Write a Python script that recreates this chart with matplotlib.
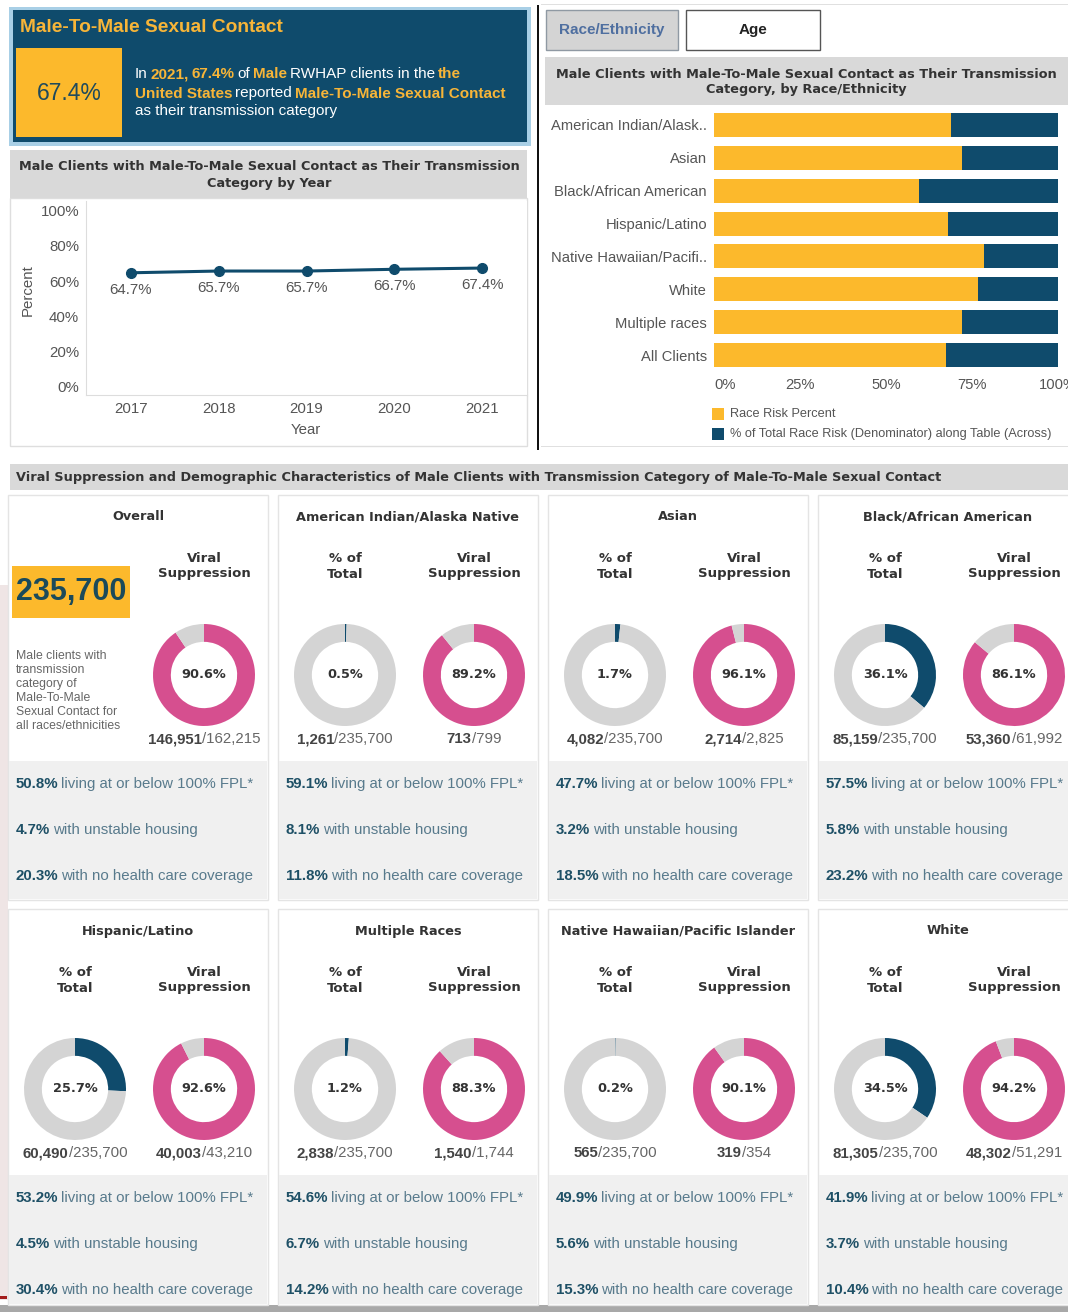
import matplotlib
matplotlib.use('Agg')
import matplotlib.pyplot as plt
from matplotlib.patches import Rectangle

plt.rcParams['font.family'] = ['Liberation Sans', 'DejaVu Sans']

# ---- data ----
years = [2017, 2018, 2019, 2020, 2021]
msm_pct = [64.7, 65.7, 65.7, 66.7, 67.4]

races = ['American Indian/Alask..', 'Asian', 'Black/African American', 'Hispanic/Latino',
         'Native Hawaiian/Pacifi..', 'White', 'Multiple races', 'All Clients']
race_risk = [68.9, 72.1, 59.6, 68.1, 78.5, 76.8, 72.2, 67.4]
race_denom = [100, 100, 100, 100, 100, 100, 100, 100]

groups = ['Overall', 'American Indian/Alaska Native', 'Asian', 'Black/African American',
          'Hispanic/Latino', 'Multiple Races', 'Native Hawaiian/Pacific Islander', 'White']
pct_total = [None, 0.5, 1.7, 36.1, 25.7, 1.2, 0.2, 34.5]
group_n = [235700, 1261, 4082, 85159, 60490, 2838, 565, 81305]
vs_pct = [90.6, 89.2, 96.1, 86.1, 92.6, 88.3, 90.1, 94.2]
vs_num = [146951, 713, 2714, 53360, 40003, 1540, 319, 48302]
vs_den = [162215, 799, 2825, 61992, 43210, 1744, 354, 51291]
fpl = [50.8, 59.1, 47.7, 57.5, 53.2, 54.6, 49.9, 41.9]
unstable = [4.7, 8.1, 3.2, 5.8, 4.5, 6.7, 5.6, 3.7]
no_cover = [20.3, 11.8, 18.5, 23.2, 30.4, 14.2, 15.3, 10.4]
total_n = 235700

# ---- colours ----
NAVY = '#0f4b6c'
GOLD = '#fcb92c'
ORANGE = '#f7b538'
PINK = '#d64f8f'
RING = '#d4d4d4'
TITLE_BG = '#d9d9d9'
DARK = '#333333'
TEAL_B = '#1e5066'
TEAL_N = '#587a8c'
BOLDFAM = 'DejaVu Sans'
TSIZE = 9.3

W, H = 1068, 1312
fig = plt.figure(figsize=(W / 100, H / 100), dpi=100)
R = fig.canvas.get_renderer()


def fx(x):
    return x / W


def fy(y):
    return 1 - y / H


def box(x0, y0, x1, y1, fc, ec='none', lw=0):
    fig.patches.append(Rectangle((fx(x0), fy(y1)), (x1 - x0) / W, (y1 - y0) / H,
                                 transform=fig.transFigure, fc=fc, ec=ec, lw=lw, zorder=-5))


def txt(x, y, s, **kw):
    kw.setdefault('va', 'center')
    return fig.text(fx(x), fy(y), s, **kw)


def width(s, **kw):
    t = fig.text(0, 0, s, **kw)
    w = t.get_window_extent(renderer=R).width
    t.remove()
    return w


def rich(x, y, parts, size, ha='left'):
    # parts: (text, colour, bold); y is the visual centre of the line
    sp = 0.65 * (width('x x', fontsize=size) - width('xx', fontsize=size))
    items = []
    for s, c, b in parts:
        core = s.strip(' ')
        lead = (len(s) - len(s.lstrip(' '))) * sp
        trail = (len(s) - len(s.rstrip(' '))) * sp
        wt = 'bold' if b else 'normal'
        w = width(core, fontsize=size, fontweight=wt) if core else 0
        items.append((core, c, wt, lead, w, trail))
    total = sum(it[3] + it[4] + it[5] for it in items)
    cur = x if ha == 'left' else x - total / 2
    yb = y + 0.36 * size * 100 / 72
    for core, c, wt, lead, w, trail in items:
        cur += lead
        if core:
            fig.text(fx(cur), fy(yb), core, color=c, fontsize=size, fontweight=wt,
                     ha='left', va='baseline')
        cur += w + trail


# ---- page furniture ----
box(0, 585, 8, 1300, '#efe5e5')
box(0, 1296, 7, 1299, '#a31b1b')
box(0, 1305, W, H, '#a8a8a8')

# header card
box(9, 7, 531, 146, '#a8cfe6')
box(13, 10, 527, 142, NAVY)
txt(20, 27, 'Male-To-Male Sexual Contact', color=ORANGE, fontsize=13.8, fontweight='bold')
box(16, 48, 122, 137, GOLD)
txt(69, 93, f'{msm_pct[-1]}%', color='#1f4a5c', fontsize=16.5, ha='center')
HS = 11
rich(135, 73, [('In ', 'white', False), ('2021,', ORANGE, True), (' 67.4%', ORANGE, True),
               (' of ', 'white', False), ('Male', ORANGE, True),
               (' RWHAP clients in the ', 'white', False), ('the', ORANGE, True)], HS)
rich(135, 92, [('United States', ORANGE, True), (' reported ', 'white', False),
               ('Male-To-Male Sexual Contact', ORANGE, True)], HS)
rich(135, 110, [('as their transmission category', 'white', False)], HS)

# trend panel
box(10, 150, 527, 198, TITLE_BG)
txt(269, 175, 'Male Clients with Male-To-Male Sexual Contact as Their Transmission\nCategory by Year',
    ha='center', color=DARK, fontsize=TSIZE, fontweight='bold', family=BOLDFAM, linespacing=1.3)
box(10, 198, 527, 446, 'none', ec='#dedede', lw=1)

ax = fig.add_axes([fx(86), fy(395), (527 - 86) / W, (395 - 201) / H])
ax.plot(years, msm_pct, color=NAVY, lw=2.2, marker='o', ms=7)
for yr, v in zip(years, msm_pct):
    ax.annotate(f'{v}%', (yr, v), xytext=(0, -17), textcoords='offset pixels',
                ha='center', va='center', fontsize=10.8, color='#555555')
ax.set_xlim(2016.49, 2021.51)
ax.set_ylim(-5.1, 105.7)
ax.set_yticks([0, 20, 40, 60, 80, 100])
ax.set_yticklabels([f'{t}%' for t in [0, 20, 40, 60, 80, 100]])
ax.set_xticks(years)
ax.tick_params(length=0, labelsize=10.8, labelcolor='#555555', pad=5)
for s in ['top', 'right']:
    ax.spines[s].set_visible(False)
for s in ['left', 'bottom']:
    ax.spines[s].set_color('#dddddd')
txt(28, 290, 'Percent', rotation=90, ha='center', fontsize=10.8, color='#555555')
txt(306, 430, 'Year', ha='center', fontsize=10.8, color='#555555')

# race / ethnicity panel
box(537, 5, 539, 450, '#111111')
box(541, 4, W, 5, '#e0e0e0')
box(541, 446, W, 447, '#e0e0e0')
box(546, 10, 678, 50, '#d4d4d4', ec='#8f99a3', lw=1)
txt(612, 30, 'Race/Ethnicity', ha='center', color='#4f6fa0', fontsize=11, fontweight='bold')
box(686, 10, 820, 50, 'white', ec='#555555', lw=1)
txt(753, 30, 'Age', ha='center', color='#222222', fontsize=11, fontweight='bold')
box(545, 57, W, 105, TITLE_BG)
txt(806, 82, 'Male Clients with Male-To-Male Sexual Contact as Their Transmission\n'
    'Category, by Race/Ethnicity', ha='center', color=DARK, fontsize=TSIZE,
    fontweight='bold', family=BOLDFAM, linespacing=1.3)

bx = fig.add_axes([fx(714), fy(371.5), (1058 - 714) / W, (371.5 - 108.5) / H])
ypos = list(range(len(races)))
bx.barh(ypos, race_denom, height=0.73, color=NAVY)
bx.barh(ypos, race_risk, height=0.73, color=GOLD)
bx.set_xlim(0, 100)
bx.set_ylim(len(races) - 0.5, -0.5)
bx.set_yticks(ypos)
bx.set_yticklabels(races)
bx.set_xticks([0, 25, 50, 75, 100])
bx.set_xticklabels(['0%', '25%', '50%', '75%', '100%'])
bx.tick_params(length=0, labelsize=10.6, labelcolor='#555555', pad=5)
bx.get_xticklabels()[0].set_ha('left')
for s in bx.spines.values():
    s.set_visible(False)
box(712, 408, 724, 420, GOLD)
txt(730, 414, 'Race Risk Percent', fontsize=9.2, color='#555555')
box(712, 428, 724, 440, NAVY)
txt(730, 434, '% of Total Race Risk (Denominator) along Table (Across)', fontsize=9.2,
    color='#555555')

# ---- viral suppression cards ----
box(10, 464, W, 490, TITLE_BG)
txt(16, 477, 'Viral Suppression and Demographic Characteristics of Male Clients with '
    'Transmission Category of Male-To-Male Sexual Contact', color=DARK, fontsize=TSIZE,
    fontweight='bold', family=BOLDFAM)


def donut(cx, cy, value, colour):
    r = 51
    dax = fig.add_axes([fx(cx - r), fy(cy + r), 2 * r / W, 2 * r / H])
    dax.pie([value, 100 - value], colors=[colour, RING], startangle=90, counterclock=False,
            radius=1, wedgeprops=dict(width=0.35, linewidth=0))
    dax.set_xlim(-1, 1)
    dax.set_ylim(-1, 1)
    dax.axis('off')
    txt(cx, cy, f'{value}%', ha='center', fontsize=9.3, fontweight='bold', color=DARK,
        family=BOLDFAM)


row_top = [495, 909]
row_mid = [761, 1175]
row_bot = [900, 1305]
for i, g in enumerate(groups):
    r, c = divmod(i, 4)
    x0 = 8 + c * 270
    x1 = x0 + 260
    t = row_top[r]
    box(x0, t, x1, row_bot[r], 'white', ec='#e4e4e4', lw=1)
    box(x0 + 1, row_mid[r], x1 - 1, row_bot[r] - 1, '#f0f0f0')
    txt((x0 + x1) / 2, t + 22, g, ha='center', fontsize=TSIZE, fontweight='bold', color=DARK,
        family=BOLDFAM)
    lx, rx = x0 + 67, x0 + 196
    txt(rx, t + 71, 'Viral\nSuppression', ha='center', fontsize=9.5, fontweight='bold',
        color=DARK, family=BOLDFAM, linespacing=1.3)
    donut(rx, t + 180, vs_pct[i], PINK)
    rich(rx, t + 243, [(f'{vs_num[i]:,}', '#444444', True), (f'/{vs_den[i]:,}', '#666666', False)],
         10.8, ha='center')
    if pct_total[i] is None:
        box(12, 566, 130, 618, GOLD)
        txt(71, 592, f'{group_n[i]:,}', ha='center', fontsize=22, fontweight='bold',
            color='#1b4a5a')
        txt(16, 691, 'Male clients with\ntransmission\ncategory of\nMale-To-Male\n'
            'Sexual Contact for\nall races/ethnicities', fontsize=8.8, color='#666666',
            linespacing=1.22)
    else:
        txt(lx, t + 71, '% of\nTotal', ha='center', fontsize=9.5, fontweight='bold',
            color=DARK, family=BOLDFAM, linespacing=1.3)
        donut(lx, t + 180, pct_total[i], NAVY)
        rich(lx, t + 243, [(f'{group_n[i]:,}', '#444444', True),
                           (f'/{total_n:,}', '#666666', False)], 10.8, ha='center')
    for k, (v, s) in enumerate([(fpl[i], ' living at or below 100% FPL*'),
                                (unstable[i], ' with unstable housing'),
                                (no_cover[i], ' with no health care coverage')]):
        rich(x0 + 8, t + 288 + 46 * k, [(f'{v}%', TEAL_B, True), (s, TEAL_N, False)], 10.8)

fig.savefig('out.png', dpi=100)
